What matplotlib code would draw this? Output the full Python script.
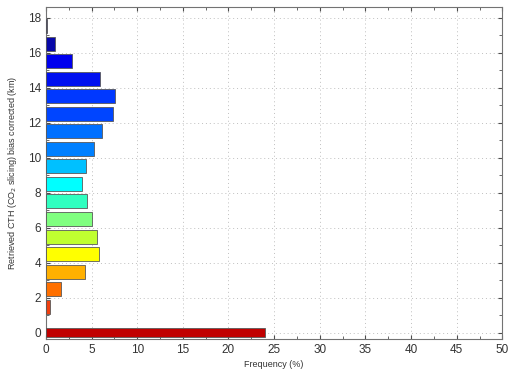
import numpy as np
import matplotlib.pyplot as plt
from matplotlib.ticker import MultipleLocator

plt.rcParams['font.family'] = ['Liberation Sans', 'DejaVu Sans']

# cloud top height bins (km) and frequency of occurrence (%)
heights = [0, 1.5, 2.5, 3.5, 4.5, 5.5, 6.5, 7.5, 8.5,
           9.5, 10.5, 11.5, 12.5, 13.5, 14.5, 15.5, 16.5, 17.5]
freq = [24.0, 0.4, 1.7, 4.3, 5.85, 5.65, 5.0, 4.5, 4.0,
        4.4, 5.3, 6.2, 7.4, 7.6, 5.9, 2.9, 1.0, 0.15]

colors = ['#c00000', '#f04010', '#ff7000', '#ffb000', '#ffff00', '#c0ff30',
          '#80ff80', '#30ffc0', '#00ffff', '#00c0ff', '#0080ff', '#0070ff',
          '#0045ff', '#0038ff', '#0010f0', '#0000ee', '#0808a8', '#00007a']

bar_h = np.full(len(heights), 0.8)
bar_h[0] = 0.5

fig = plt.figure(figsize=(5.1, 3.76), dpi=100)
ax = fig.add_axes([0.090, 0.0984, 0.895, 0.883])

ax.barh(heights, freq, height=bar_h, color=colors, edgecolor='0.35',
        linewidth=0.6, zorder=3)

ax.set_xlim(0, 50)
ax.set_ylim(-0.35, 18.6)
ax.xaxis.set_major_locator(MultipleLocator(5))
ax.xaxis.set_minor_locator(MultipleLocator(2.5))
ax.yaxis.set_major_locator(MultipleLocator(2))
ax.yaxis.set_minor_locator(MultipleLocator(1))
ax.tick_params(which='both', direction='in', top=True, right=True,
               labelsize=8.5, colors='0.3', labelcolor='#333333')
ax.tick_params(which='major', length=3)
ax.tick_params(which='minor', length=2)
ax.grid(True, which='major', linestyle=(0, (1, 3)), color='0.75',
        linewidth=0.7, zorder=0)
for s in ax.spines.values():
    s.set_color('0.45')
    s.set_linewidth(0.8)

ax.set_xlabel('Frequency (%)', fontsize=6.5, color='#333333', labelpad=3)
ax.set_ylabel('Retrieved CTH (CO$_2$ slicing) bias corrected (km)', fontsize=6.5,
              color='#333333', labelpad=6)

fig.savefig('out.png', dpi=100)
